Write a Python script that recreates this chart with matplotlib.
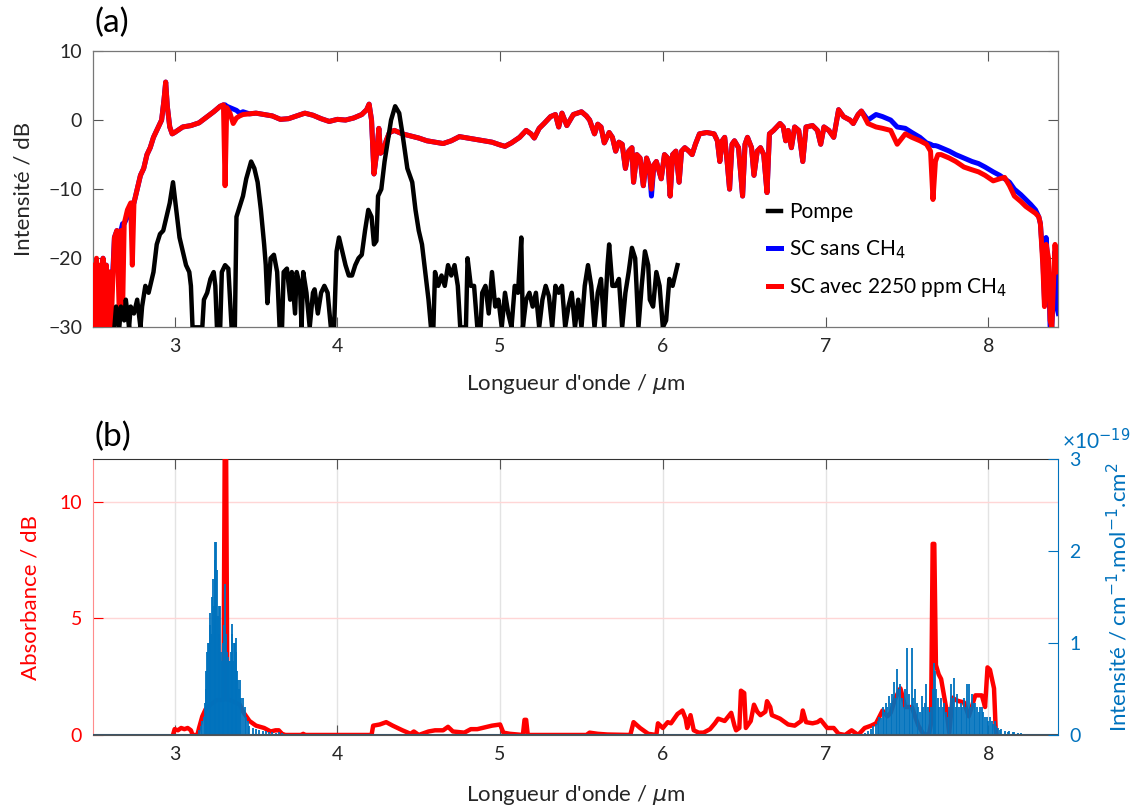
import numpy as np
import matplotlib
matplotlib.use("Agg")
import matplotlib.pyplot as plt

plt.rcParams["font.family"] = ["Lato", "DejaVu Sans"]
plt.rcParams["mathtext.fontset"] = "dejavusans"

# (a) supercontinuum spectra, wavelength in um, intensity in dB
sc_wl = [2.50, 2.51, 2.52, 2.53, 2.54, 2.55, 2.56, 2.57, 2.58, 2.59, 2.60, 2.61, 2.62,
         2.63, 2.645, 2.66, 2.67, 2.68, 2.69, 2.71, 2.73, 2.74, 2.75, 2.77, 2.79, 2.81,
         2.83, 2.85, 2.87, 2.90, 2.92, 2.935, 2.945, 2.955, 2.97, 2.985, 3.00, 3.05,
         3.10, 3.15, 3.20, 3.24, 3.28, 3.30, 3.31, 3.32, 3.34, 3.36, 3.38, 3.40, 3.42,
         3.46, 3.50, 3.55, 3.60, 3.65, 3.70, 3.75, 3.80, 3.85, 3.90, 3.95, 4.00, 4.05,
         4.10, 4.15, 4.18, 4.195, 4.21, 4.225, 4.24, 4.255, 4.265, 4.28, 4.30, 4.32,
         4.35, 4.40, 4.45, 4.50, 4.55, 4.60, 4.65, 4.70, 4.75, 4.80, 4.85, 4.90, 4.95,
         5.00, 5.03, 5.07, 5.12, 5.16, 5.19, 5.21, 5.24, 5.27, 5.31, 5.34, 5.36, 5.38,
         5.41, 5.45, 5.50, 5.53, 5.55, 5.58, 5.60, 5.62, 5.64, 5.67, 5.69, 5.71, 5.73,
         5.75, 5.77, 5.79, 5.81, 5.82, 5.84, 5.86, 5.88, 5.90, 5.915, 5.93, 5.945, 5.96,
         5.99, 6.01, 6.03, 6.045, 6.06, 6.08, 6.10, 6.115, 6.135, 6.16, 6.18, 6.20,
         6.225, 6.27, 6.315, 6.335, 6.35, 6.365, 6.38, 6.395, 6.41, 6.425, 6.44, 6.465,
         6.49, 6.505, 6.52, 6.545, 6.56, 6.58, 6.60, 6.62, 6.64, 6.655, 6.68, 6.72,
         6.74, 6.755, 6.77, 6.79, 6.81, 6.835, 6.86, 6.88, 6.92, 6.95, 6.97, 6.99,
         7.02, 7.05, 7.08, 7.11, 7.15, 7.17, 7.20, 7.22, 7.26, 7.31, 7.35, 7.40,
         7.44, 7.49, 7.53, 7.58, 7.62, 7.645, 7.66, 7.675, 7.69, 7.71, 7.76, 7.80,
         7.85, 7.90, 7.94, 7.98, 8.03, 8.07, 8.10, 8.13, 8.16, 8.20, 8.23, 8.26, 8.29,
         8.31, 8.32, 8.335, 8.345, 8.355, 8.37, 8.38, 8.39, 8.40, 8.41, 8.42, 8.43]
sc_sans = [-22, -28, -21, -30, -22, -29, -20, -24, -21, -30, -22, -26, -22,
           -17, -16, -17, -16, -15, -15, -14, -13, -12, -12, -10, -8, -7,
           -5, -4, -2.5, -1, 0, 3, 5.5, 2, -1, -2, -1.8, -1,
           -0.8, -0.4, 0.5, 1.2, 2.0, 2.2, 2.2, 2.0, 1.8, 1.6, 1.4, 1.0, 1.2,
           0.9, 1.0, 0.8, 0.6, 0.1, 0.2, 0.6, 1.0, 0.7, 0.2, -0.2, 0.1, 0.0,
           0.3, 0.8, 1.5, 2.3, 0.0, -7.8, -5.0, -1.2, -4.8, -4.5, -3.0, -1.8,
           -1.5, -2.0, -2.3, -2.6, -3.0, -3.2, -3.4, -3.0, -2.4, -2.6, -2.8, -3.0, -3.2,
           -3.6, -3.8, -3.3, -2.5, -1.5, -2.0, -2.6, -1.2, -0.5, 0.5, 0.8, -1.0, 1.0,
           -0.8, 0.8, 1.2, 0.6, 0.0, -2.0, -0.6, -1.0, -3.3, -1.8, -2.5, -4.5, -3.2,
           -3.5, -7.0, -4.5, -4.0, -9.0, -5.0, -5.5, -9.5, -5.5, -6.5, -11, -6.5, -6.0,
           -8.5, -5.0, -5.5, -11, -5.0, -4.5, -9.0, -4.5, -4.0, -4.5, -5.0, -3.5,
           -2.0, -1.8, -2.0, -3.0, -6.0, -3.0, -2.5, -6.0, -10, -3.5, -3.0, -4.0,
           -11, -3.5, -2.5, -4.0, -8.0, -4.5, -4.0, -5.0, -10.5, -2.0, -1.5, -0.5,
           -1.0, -3.0, -1.5, -4.0, -1.0, -1.5, -6.0, -1.0, -0.8, -1.5, -3.5, -1.0,
           -1.5, -2.5, 1.5, 0.5, 0.0, -0.5, 0.8, 1.3, 0.0, 0.8, 0.5, 0.0,
           -1.0, -1.2, -1.8, -2.5, -3.3, -3.5, -3.7, -3.7, -3.8, -4.0, -4.5, -5.0,
           -5.5, -6.0, -6.3, -6.8, -7.5, -8.0, -8.5, -9.0, -10, -10.8, -11.5, -12.2, -13,
           -14, -15, -20, -26, -17, -22, -30, -30, -25, -19, -27, -28]
sc_avec = [-21, -30, -20, -30, -21, -30, -20, -30, -21, -30, -22, -30, -23,
           -17, -16, -28, -16, -28, -15, -13, -12, -21, -12, -10, -8, -7,
           -5, -4, -2.5, -1, 0, 3, 5.5, 2, -1, -2, -1.8, -1,
           -0.8, -0.4, 0.5, 1.2, 2.0, 2.2, -9.5, 1.8, 1.0, -0.5, 0.3, 0.6, 0.8,
           0.9, 1.0, 0.8, 0.6, 0.1, 0.2, 0.6, 1.0, 0.7, 0.2, -0.2, 0.1, 0.0,
           0.3, 0.8, 1.5, 2.3, 0.0, -7.8, -5.0, -1.2, -4.8, -4.5, -3.0, -1.8,
           -1.5, -2.0, -2.3, -2.6, -3.0, -3.2, -3.4, -3.0, -2.4, -2.6, -2.8, -3.0, -3.2,
           -3.6, -3.8, -3.3, -2.5, -1.5, -2.0, -2.6, -1.2, -0.5, 0.5, 0.8, -1.0, 1.0,
           -0.8, 0.8, 1.2, 0.6, 0.0, -2.0, -0.6, -1.0, -3.3, -1.8, -2.5, -4.5, -3.2,
           -3.5, -7.0, -4.5, -4.0, -9.0, -5.0, -5.5, -9.5, -5.5, -6.5, -10, -6.5, -6.0,
           -8.5, -5.0, -5.5, -11, -5.0, -4.5, -9.0, -4.5, -4.0, -4.5, -5.0, -3.5,
           -2.0, -1.8, -2.0, -3.0, -6.0, -3.0, -2.5, -6.0, -10, -3.5, -3.0, -4.0,
           -11, -3.5, -2.5, -4.0, -8.0, -4.5, -4.0, -5.0, -10.5, -2.0, -1.5, -0.5,
           -1.0, -3.0, -1.5, -4.0, -1.0, -1.5, -6.0, -1.0, -0.8, -1.5, -3.5, -1.0,
           -1.5, -2.5, 1.5, 0.5, 0.0, -0.5, 0.8, 1.3, -0.5, -1.0, -1.2, -1.5,
           -3.5, -2.0, -2.5, -3.0, -3.5, -4.5, -11.5, -6.0, -5.0, -5.0, -5.5, -6.0,
           -6.8, -7.2, -7.5, -8.0, -8.8, -8.5, -8.3, -9.5, -11, -11.8, -12.5, -13, -13.5,
           -14, -15, -21, -27, -18, -20, -29, -30, -24, -18, -22, -19]

# pump spectrum
pump_wl = [2.63, 2.64, 2.66, 2.67, 2.69, 2.70, 2.72, 2.73, 2.75, 2.77, 2.79, 2.80, 2.82,
           2.84, 2.87, 2.89, 2.91, 2.93, 2.95, 2.97, 2.99, 3.01, 3.03, 3.05, 3.07, 3.09,
           3.10, 3.11, 3.17, 3.18, 3.20, 3.22, 3.24, 3.25, 3.26, 3.28, 3.29, 3.31, 3.33,
           3.35, 3.37, 3.38, 3.40, 3.42, 3.44, 3.47, 3.49, 3.51, 3.53, 3.55, 3.56, 3.57,
           3.59, 3.61, 3.63, 3.645, 3.66, 3.67, 3.69, 3.71, 3.72, 3.74, 3.75, 3.77, 3.78,
           3.79, 3.81, 3.83, 3.85, 3.86, 3.88, 3.90, 3.92, 3.94, 3.96, 3.98, 3.995, 4.01,
           4.03, 4.05, 4.07, 4.09, 4.11, 4.13, 4.15, 4.17, 4.19, 4.21, 4.225, 4.24, 4.25,
           4.27, 4.29, 4.31, 4.33, 4.355, 4.38, 4.40, 4.43, 4.46, 4.48, 4.50, 4.52, 4.54,
           4.56, 4.575, 4.59, 4.60, 4.62, 4.64, 4.66, 4.68, 4.70, 4.72, 4.74, 4.755, 4.79,
           4.80, 4.82, 4.84, 4.86, 4.88, 4.89, 4.91, 4.93, 4.95, 4.97, 4.99, 5.01, 5.03,
           5.05, 5.07, 5.09, 5.11, 5.13, 5.14, 5.16, 5.18, 5.20, 5.22, 5.24, 5.26, 5.28,
           5.30, 5.32, 5.34, 5.36, 5.38, 5.40, 5.42, 5.44, 5.46, 5.48, 5.50, 5.52, 5.54,
           5.56, 5.58, 5.60, 5.62, 5.64, 5.66, 5.67, 5.69, 5.71, 5.73, 5.75, 5.77, 5.79,
           5.81, 5.83, 5.85, 5.87, 5.89, 5.91, 5.92, 5.94, 5.96, 5.98, 6.00, 6.02, 6.04,
           6.06, 6.08, 6.09]
pump = [-30, -27, -30, -27, -29, -26, -30, -27, -28, -26, -30, -27, -24,
        -25, -22, -18, -16.5, -16, -14, -12, -9, -13, -17, -19, -21, -22,
        -24, -30, -30, -26, -25, -23, -22, -24, -30, -30, -22, -21, -21.5,
        -30, -30, -14, -12.5, -11, -8.5, -6, -7, -9, -13, -18, -21, -26.5,
        -20, -19.5, -22, -30, -30, -22, -21.5, -26, -22, -28, -22, -24, -30,
        -22, -25, -30, -25, -24.5, -28, -25, -24, -25, -30, -30, -19, -17,
        -19, -21, -22.5, -22.5, -21, -20, -19.5, -16, -13, -14, -18, -17.5, -11,
        -10, -6, -3, 0, 2, 1, -2, -7, -9, -13, -16, -18, -22,
        -26, -30, -30, -22, -24, -22.5, -24, -21, -22.5, -21, -24, -30, -30,
        -20, -24, -24, -30, -30, -25, -24, -28, -22, -27, -26, -30, -25,
        -28, -30, -24, -25, -17, -30, -26, -25, -27, -25, -30, -26, -24,
        -25.5, -30, -24, -25, -24, -30, -27, -25, -30, -26, -30, -24, -21,
        -24, -30, -25, -23, -30, -21, -18, -24, -24, -23, -30, -25, -22,
        -18.5, -20, -30, -24, -19, -21, -26, -27, -22, -24, -30, -29, -23,
        -24, -22, -21]

# (b) absorbance of CH4 (dB)
abs_wl = [2.99, 3.00, 3.02, 3.04, 3.06, 3.08, 3.10, 3.11, 3.14, 3.15, 3.17, 3.19, 3.22,
          3.26, 3.30, 3.308, 3.316, 3.324, 3.34, 3.37, 3.40, 3.42, 3.44, 3.46, 3.48,
          3.50, 3.55, 3.59, 3.62, 3.64, 3.66, 3.68, 3.78, 3.79, 3.80, 4.21, 4.22, 4.26,
          4.30, 4.34, 4.40, 4.45, 4.47, 4.50, 4.56, 4.60, 4.65, 4.68, 4.71, 4.78, 4.82,
          4.86, 4.89, 4.95, 5.00, 5.02, 5.06, 5.14, 5.15, 5.16, 5.17, 5.53, 5.55, 5.60,
          5.66, 5.80, 5.82, 5.86, 5.91, 5.96, 5.97, 6.00, 6.03, 6.05, 6.09, 6.12, 6.14,
          6.15, 6.17, 6.19, 6.22, 6.25, 6.29, 6.32, 6.34, 6.38, 6.42, 6.44, 6.45, 6.47,
          6.48, 6.50, 6.51, 6.54, 6.56, 6.58, 6.60, 6.63, 6.64, 6.66, 6.67, 6.72, 6.77,
          6.81, 6.85, 6.86, 6.88, 6.92, 6.95, 6.97, 7.01, 7.05, 7.08, 7.12, 7.16, 7.20,
          7.24, 7.28, 7.31, 7.35, 7.38, 7.40, 7.43, 7.46, 7.49, 7.53, 7.57, 7.60, 7.635,
          7.648, 7.658, 7.668, 7.678, 7.695, 7.71, 7.74, 7.76, 7.78, 7.80, 7.82, 7.85,
          7.88, 7.92, 7.96, 7.98, 7.995, 8.01, 8.035, 8.045, 8.05]
absorb = [0.0, 0.25, 0.2, 0.3, 0.25, 0.3, 0.2, 0.0, 0.0, 0.3, 0.8, 1.1, 1.3,
          1.5, 1.5, 12.5, 12.5, 1.5, 1.5, 1.4, 1.3, 1.0, 0.8, 0.6, 0.5,
          0.4, 0.3, 0.15, 0.2, 0.2, 0.05, 0.0, 0.0, 0.05, 0.0, 0.0, 0.4, 0.45,
          0.55, 0.4, 0.2, 0.05, 0.15, 0.0, 0.15, 0.2, 0.2, 0.35, 0.15, 0.1, 0.25,
          0.25, 0.3, 0.4, 0.45, 0.1, 0.05, 0.0, 0.65, 0.65, 0.0, 0.0, 0.1, 0.05,
          0.02, 0.0, 0.55, 0.3, 0.05, 0.0, 0.5, 0.3, 0.55, 0.5, 0.9, 1.05, 0.7,
          0.3, 0.85, 0.2, 0.1, 0.1, 0.25, 0.5, 0.7, 0.6, 0.95, 0.4, 0.2, 0.3,
          1.9, 1.8, 0.3, 0.6, 1.3, 1.0, 0.85, 1.0, 1.45, 1.2, 0.85, 0.7, 0.45,
          0.4, 0.6, 1.05, 0.55, 0.5, 0.55, 0.65, 0.3, 0.3, 0.05, 0.0, 0.2, 0.0,
          0.3, 0.4, 0.5, 1.05, 0.8, 0.95, 1.6, 2.0, 1.2, 1.2, 0.4, 0.05, 0.0,
          0.5, 8.2, 8.2, 3.0, 2.6, 2.4, 1.2, 0.1, 1.6, 1.5, 1.45, 1.4,
          0.8, 1.7, 1.7, 1.2, 2.9, 2.8, 2.0, 0.3, 0.0]

# line intensities (x1e-19 cm-1.mol-1.cm2)
line_wl = [3.15, 3.16, 3.17, 3.18, 3.185, 3.19, 3.195, 3.20, 3.205, 3.21, 3.215, 3.22,
           3.225, 3.23, 3.235, 3.24, 3.245, 3.25, 3.255, 3.26, 3.265, 3.27, 3.275, 3.28,
           3.285, 3.29, 3.295, 3.30, 3.305, 3.31, 3.315, 3.32, 3.325, 3.33, 3.335, 3.34,
           3.345, 3.35, 3.355, 3.36, 3.365, 3.37, 3.375, 3.38, 3.385, 3.39, 3.395, 3.40,
           3.41, 3.42, 3.43, 3.44, 3.45, 3.46, 3.48, 3.50, 3.52, 3.54, 3.56, 3.58, 3.60,
           3.62, 3.64, 3.66, 3.68,
           7.24, 7.26, 7.28, 7.29, 7.31, 7.32, 7.33, 7.34, 7.35, 7.36, 7.37, 7.38, 7.39,
           7.40, 7.41, 7.42, 7.43, 7.44, 7.45, 7.46, 7.47, 7.48, 7.49, 7.50, 7.51, 7.52,
           7.53, 7.54, 7.55, 7.56, 7.57, 7.58, 7.59, 7.60, 7.61, 7.62, 7.63, 7.64, 7.65,
           7.66, 7.665, 7.67, 7.68, 7.69, 7.70, 7.71, 7.72, 7.73, 7.74, 7.75, 7.76, 7.77,
           7.78, 7.79, 7.80, 7.81, 7.82, 7.83, 7.84, 7.85, 7.86, 7.87, 7.88, 7.89, 7.90,
           7.91, 7.92, 7.93, 7.94, 7.95, 7.96, 7.97, 7.98, 7.99, 8.00, 8.01, 8.02, 8.03,
           8.04, 8.05, 8.06, 8.07, 8.08, 8.10, 8.12, 8.13, 8.15, 8.16, 8.18, 8.20, 8.23,
           8.26]
line_int = [0.05, 0.1, 0.15, 0.2, 0.35, 0.5, 0.7, 0.9, 1.0, 1.0, 1.2, 1.33,
            1.1, 1.5, 1.7, 1.4, 1.9, 2.1, 2.1, 1.8, 1.3, 1.4, 1.1, 1.4,
            0.9, 0.8, 0.7, 1.0, 1.2, 1.64, 1.1, 0.9, 0.75, 0.85, 0.8, 0.8,
            0.9, 1.1, 1.21, 0.8, 1.0, 1.0, 0.9, 1.05, 0.7, 0.6, 0.5, 0.6,
            0.4, 0.4, 0.3, 0.2, 0.15, 0.1, 0.08, 0.06, 0.05, 0.04, 0.04, 0.03, 0.03,
            0.02, 0.03, 0.02, 0.01,
            0.02, 0.04, 0.06, 0.1, 0.12, 0.15, 0.2, 0.18, 0.3, 0.25, 0.35, 0.3, 0.42,
            0.35, 0.45, 0.58, 0.4, 0.72, 0.5, 0.55, 0.4, 0.3, 0.5, 0.95, 0.45, 0.3,
            0.95, 0.4, 0.5, 0.35, 0.3, 0.25, 0.42, 0.3, 0.35, 0.55, 0.3, 0.25, 0.3,
            0.5, 0.78, 0.7, 0.5, 0.4, 0.3, 0.4, 0.3, 0.35, 0.25, 0.2, 0.3, 0.55,
            0.4, 0.62, 0.3, 0.45, 0.3, 0.35, 0.3, 0.4, 0.3, 0.55, 0.55, 0.3, 0.45,
            0.35, 0.35, 0.3, 0.25, 0.3, 0.3, 0.25, 0.2, 0.2, 0.15, 0.2, 0.15, 0.12,
            0.15, 0.1, 0.08, 0.05, 0.06, 0.04, 0.03, 0.04, 0.03, 0.03, 0.02, 0.02, 0.01,
            0.01]

red = "#ff0000"
blue = "#0000ff"
mblue = "#0072bd"
txt = "#262626"

fig = plt.figure(figsize=(11.36, 8.09), dpi=100)

# ---- panel (a)
ax1 = fig.add_axes([0.0821, 0.5954, 0.8495, 0.3416])
ax1.plot(sc_wl, sc_sans, color=blue, lw=3.6, label="SC sans CH$_4$", zorder=2)
ax1.plot(sc_wl, sc_avec, color=red, lw=3.6, label="SC avec 2250 ppm CH$_4$", zorder=3)
ax1.plot(pump_wl, pump, color="black", lw=3.2, label="Pompe", zorder=4)
ax1.set_xlim(2.5, 8.43)
ax1.set_ylim(-30, 10)
ax1.set_xticks([3, 4, 5, 6, 7, 8])
ax1.set_yticks([-30, -20, -10, 0, 10])
ax1.tick_params(direction="in", length=7, width=0.8, top=True, right=True,
                labelsize=14, colors="#555555", labelcolor=txt, pad=8)
for s in ax1.spines.values():
    s.set_color("#777777")
    s.set_linewidth(0.9)
ax1.set_xlabel("Longueur d'onde / $\\mu$m", fontsize=16, color=txt, labelpad=12)
ax1.set_ylabel("Intensité / dB", fontsize=16, color=txt)
ax1.yaxis.set_label_coords(-0.062, 0.5)

h, l = ax1.get_legend_handles_labels()
order = [2, 0, 1]
leg = ax1.legend([h[i] for i in order], [l[i] for i in order], loc="upper left",
                 bbox_to_anchor=(0.68, 0.52), frameon=False, fontsize=15,
                 handlelength=0.6, handletextpad=0.4, labelspacing=0.75)
for t in leg.get_texts():
    t.set_color("black")

fig.text(0.083, 0.972, "(a)", fontsize=24, color="black", va="center")

# ---- panel (b)
ax2 = fig.add_axes([0.0821, 0.0915, 0.8495, 0.3408])
ax2.plot(abs_wl, absorb, color=red, lw=3.2, zorder=3)
ax2.set_xlim(2.5, 8.43)
ax2.set_ylim(0, 11.83)
ax2.set_xticks([3, 4, 5, 6, 7, 8])
ax2.set_yticks([0, 5, 10])
ax2.grid(axis="x", color="#e3e3e3", lw=1.0)
ax2.grid(axis="y", color="#ffd6d6", lw=1.0)
ax2.set_axisbelow(True)
ax2.tick_params(axis="x", direction="in", length=7, width=0.8, top=True,
                labelsize=14, colors="#555555", labelcolor=txt, pad=8)
ax2.tick_params(axis="y", direction="in", length=7, width=0.8, right=False,
                labelsize=14, colors=red, pad=8)
ax2.spines["left"].set_color("#ff8c8c")
ax2.spines["right"].set_visible(False)
ax2.spines["top"].set_color("#333333")
ax2.spines["bottom"].set_color("#555555")
ax2.set_xlabel("Longueur d'onde / $\\mu$m", fontsize=16, color=txt, labelpad=14)
ax2.set_ylabel("Absorbance / dB", fontsize=16, color=red)
ax2.yaxis.set_label_coords(-0.055, 0.5)

ax3 = ax2.twinx()
ax3.vlines(line_wl, 0, line_int, color=mblue, lw=1.3, zorder=4)
ax3.axhline(0, color="#3d5466", lw=1.5, zorder=5)
ax3.set_ylim(0, 3)
ax3.set_yticks([0, 1, 2, 3])
ax3.tick_params(axis="y", direction="in", length=7, width=0.8, labelsize=14,
                colors=mblue, pad=8)
for k in ["left", "top", "bottom"]:
    ax3.spines[k].set_visible(False)
ax3.spines["right"].set_color(mblue)
ax3.set_ylabel("Intensité / cm$^{-1}$.mol$^{-1}$.cm$^{2}$", fontsize=16, color=mblue)
ax3.yaxis.set_label_coords(1.049, 0.5)
fig.text(0.935, 0.455, "×10$^{-19}$", fontsize=15, color=mblue, va="center")

fig.text(0.083, 0.46, "(b)", fontsize=24, color="black", va="center")

fig.savefig("out.png", dpi=100)
